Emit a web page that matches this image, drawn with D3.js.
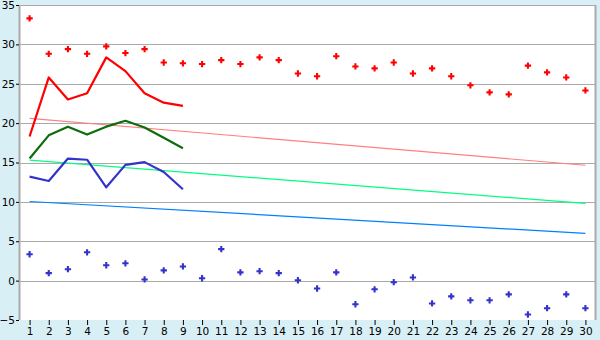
<!DOCTYPE html>
<html>
<head>
<meta charset="utf-8">
<script src="https://cdn.jsdelivr.net/npm/d3@7"></script>
<style>
  body { margin: 0; background: #d9eff6; }
  svg { display: block; }
  .tick text { font-family: "DejaVu Sans", sans-serif; font-size: 10.5px; fill: #000; }
</style>
</head>
<body>
<script>
const days = d3.range(1, 31);
const yTicks = [-5, 0, 5, 10, 15, 20, 25, 30, 35];

// daily points
const highPts = [33.3, 28.8, 29.4, 28.8, 29.75, 28.9, 29.4, 27.7, 27.6, 27.5,
                 28.0, 27.5, 28.35, 28.0, 26.3, 25.95, 28.5, 27.2, 26.95, 27.7,
                 26.3, 26.95, 25.95, 24.8, 23.9, 23.65, 27.3, 26.45, 25.8, 24.15];
const lowPts = [3.35, 0.95, 1.45, 3.6, 1.95, 2.2, 0.15, 1.3, 1.8, 0.3,
                4.0, 1.05, 1.2, 0.95, 0.05, -1.0, 1.05, -3.0, -1.1, -0.2,
                0.4, -2.9, -2.0, -2.5, -2.5, -1.75, -4.3, -3.5, -1.75, -3.5];

// lines (days 1-9)
const highLine = [18.3, 25.8, 23.0, 23.8, 28.35, 26.6, 23.8, 22.6, 22.2];
const meanLine = [15.5, 18.45, 19.55, 18.55, 19.55, 20.3, 19.45, 18.15, 16.8];
const lowLine = [13.2, 12.65, 15.5, 15.35, 11.85, 14.7, 15.05, 13.8, 11.6];

// trend lines: [day1, day30]
const highTrend = [20.6, 14.65];
const meanTrend = [15.3, 9.8];
const lowTrend = [10.05, 6.0];

const W = 600, H = 340;
const m = { left: 20, right: 595, top: 5, bottom: 320 };

const svg = d3.select("body").append("svg")
    .attr("width", W)
    .attr("height", H);

const x = d3.scalePoint()
    .domain(days)
    .range([m.left, m.right])
    .padding(0.5);

const y = d3.scaleLinear()
    .domain([-5, 35])
    .range([m.bottom, m.top]);

svg.append("rect")
    .attr("x", m.left)
    .attr("y", m.top)
    .attr("width", m.right - m.left)
    .attr("height", m.bottom - m.top)
    .attr("fill", "#fff");

// grid
svg.append("g")
    .selectAll("line")
    .data(yTicks.filter(d => d > -5))
    .enter().append("line")
      .attr("x1", m.left)
      .attr("x2", m.right)
      .attr("y1", d => Math.round(y(d)) + 0.5)
      .attr("y2", d => Math.round(y(d)) + 0.5)
      .attr("stroke", "#aaa")
      .attr("stroke-width", 1);

svg.append("line")
    .attr("x1", m.right + 0.5).attr("x2", m.right + 0.5)
    .attr("y1", m.top).attr("y2", m.bottom)
    .attr("stroke", "#aaa")
    .attr("stroke-width", 2);

svg.append("line")
    .attr("x1", m.left - 0.5).attr("x2", m.left - 0.5)
    .attr("y1", m.top).attr("y2", m.bottom)
    .attr("stroke", "#aaa")
    .attr("stroke-width", 2);

// axes
const yAxis = svg.append("g")
    .attr("transform", `translate(${m.left - 1},0)`)
    .call(d3.axisLeft(y).tickValues(yTicks).tickSize(3).tickPadding(1));
yAxis.select(".domain").remove();
yAxis.selectAll(".tick line").attr("stroke", "#000");

const xAxis = svg.append("g")
    .attr("transform", `translate(0,${m.bottom})`)
    .call(d3.axisBottom(x).tickSize(5).tickPadding(3));
xAxis.select(".domain").remove();
xAxis.selectAll(".tick line").attr("stroke", "#000");

// trend lines
const trends = [
  { v: highTrend, c: "#ff8080" },
  { v: meanTrend, c: "#00ff80" },
  { v: lowTrend, c: "#0080ff" }
];
svg.append("g")
    .selectAll("line")
    .data(trends)
    .enter().append("line")
      .attr("x1", x(1))
      .attr("x2", x(30))
      .attr("y1", d => y(d.v[0]))
      .attr("y2", d => y(d.v[1]))
      .attr("stroke", d => d.c)
      .attr("stroke-width", 1.2);

// lines
const line = d3.line()
    .x((d, i) => x(days[i]))
    .y(d => y(d));

const series = [
  { v: highLine, c: "#ff0000" },
  { v: meanLine, c: "#0b6e0b" },
  { v: lowLine, c: "#3333cc" }
];
svg.append("g")
    .selectAll("path")
    .data(series)
    .enter().append("path")
      .attr("d", d => line(d.v))
      .attr("fill", "none")
      .attr("stroke", d => d.c)
      .attr("stroke-width", 2.2)
      .attr("stroke-linejoin", "round");

// points
const cross = d3.symbol().type(d3.symbolCross).size(22);

function drawPts(vals, color) {
  svg.append("g")
    .selectAll("path")
    .data(vals)
    .enter().append("path")
      .attr("transform", (d, i) => `translate(${x(days[i])},${y(d)})`)
      .attr("d", cross)
      .attr("fill", color);
}
drawPts(highPts, "#ff0000");
drawPts(lowPts, "#3333cc");
</script>
</body>
</html>
